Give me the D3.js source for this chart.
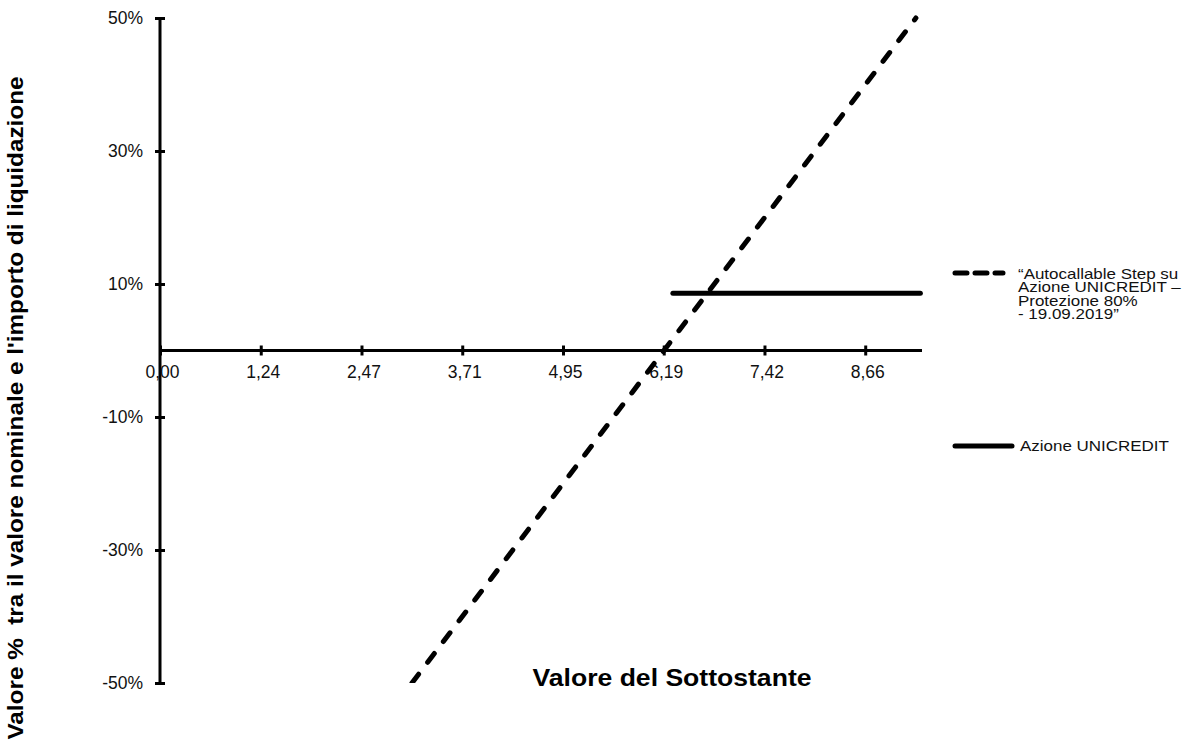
<!DOCTYPE html>
<html>
<head>
<meta charset="utf-8">
<script src="https://cdn.jsdelivr.net/npm/d3@7"></script>
<style>
  html, body { margin: 0; padding: 0; background: #fff; }
  svg { display: block; font-family: "Liberation Sans", Arial, sans-serif; }
</style>
</head>
<body>
<svg id="chart" width="1186" height="746"></svg>
<script>
// ---- data ----
const xTickValues = [0, 1.2375, 2.475, 3.7125, 4.95, 6.1875, 7.425, 8.6625];
const xTickLabels = ["0,00", "1,24", "2,47", "3,71", "4,95", "6,19", "7,42", "8,66"];
const yTickValues = [-50, -30, -10, 10, 30, 50];
const yTickLabels = ["-50%", "-30%", "-10%", "10%", "30%", "50%"];

const certX = [3.095, 9.285];      // "Autocallable Step ..." (dashed)
const certY = [-50, 50];
const shareX = [6.30, 9.34];       // "Azione UNICREDIT" (solid)
const shareY = [8.6, 8.6];

const legendLabels = [
  ["\u201CAutocallable Step su", "Azione UNICREDIT \u2013", "Protezione 80%", "- 19.09.2019\u201D"],
  ["Azione UNICREDIT"]
];
const xTitle = "Valore del Sottostante";
const yTitle = "Valore %  tra il valore nominale e l'importo di liquidazione";

// ---- layout ----
const svg = d3.select("#chart");
const x = d3.scaleLinear().domain([0, 9.36]).range([160, 922]);
const y = d3.scaleLinear().domain([-50, 50]).range([683, 18]);

svg.append("defs").append("clipPath").attr("id", "plotclip")
  .append("rect").attr("x", 140).attr("y", 0).attr("width", 800).attr("height", y(-50));

const FONT = "Liberation Sans, Arial, sans-serif";

// y axis
const yAxis = svg.append("g").attr("transform", `translate(${x(0)},0)`)
  .call(d3.axisLeft(y).tickValues(yTickValues).tickSize(5)
        .tickFormat((d, i) => yTickLabels[i]));
yAxis.select(".domain").attr("d", `M0,${y(50)}V${y(-50)}`).attr("stroke", "#000").attr("stroke-width", 3);
yAxis.selectAll(".tick line").attr("x1", -5).attr("x2", 5).attr("stroke", "#000").attr("stroke-width", 3);
yAxis.selectAll(".tick text").attr("font-size", 17.5).attr("fill", "#111")
  .attr("font-family", FONT).attr("x", -17);

// x axis at 0%
const xAxis = svg.append("g").attr("transform", `translate(0,${y(0)})`)
  .call(d3.axisBottom(x).tickValues(xTickValues).tickSize(5)
        .tickFormat((d, i) => xTickLabels[i]));
xAxis.select(".domain").attr("d", `M${x(0)},0H${x(9.36)}`).attr("stroke", "#000").attr("stroke-width", 3);
xAxis.selectAll(".tick line").attr("y1", -5).attr("y2", 5).attr("stroke", "#000").attr("stroke-width", 3);
xAxis.selectAll(".tick text").attr("font-size", 17.5).attr("fill", "#111")
  .attr("font-family", FONT)
  .attr("dy", null).attr("y", 27).attr("x", 2);

// lines
const line = d3.line().x(d => x(d[0])).y(d => y(d[1]));
const plot = svg.append("g").attr("clip-path", "url(#plotclip)");
plot.append("path")
  .datum(certX.map((v, i) => [v, certY[i]]))
  .attr("d", line).attr("fill", "none").attr("stroke", "#000")
  .attr("stroke-width", 5).attr("stroke-linecap", "round")
  .attr("stroke-dasharray", "11,15");
plot.append("path")
  .datum(shareX.map((v, i) => [v, shareY[i]]))
  .attr("d", line).attr("fill", "none").attr("stroke", "#000")
  .attr("stroke-width", 5).attr("stroke-linecap", "round");

// legend
const lg = svg.append("g");
lg.append("line").attr("x1", 955).attr("x2", 1003).attr("y1", 273).attr("y2", 273)
  .attr("stroke", "#000").attr("stroke-width", 5).attr("stroke-linecap", "round")
  .attr("stroke-dasharray", "12,8");
const t1 = lg.append("g").attr("transform", "translate(1018,278.5) scale(1.17,1)")
  .append("text").attr("x", 0).attr("y", 0)
  .attr("font-size", 14.5).attr("fill", "#111");
legendLabels[0].forEach((s, i) => t1.append("tspan").attr("x", 0).attr("dy", i === 0 ? 0 : 13.6).text(s));
lg.append("line").attr("x1", 955).attr("x2", 1012).attr("y1", 446).attr("y2", 446)
  .attr("stroke", "#000").attr("stroke-width", 5).attr("stroke-linecap", "round");
lg.append("g").attr("transform", "translate(1020,451) scale(1.17,1)")
  .append("text").attr("x", 0).attr("y", 0).attr("font-size", 14.5).attr("fill", "#111")
  .text(legendLabels[1][0]);

// titles
svg.append("text").attr("x", 672).attr("y", 686).attr("text-anchor", "middle")
  .attr("font-size", 24).attr("font-weight", "bold").attr("fill", "#000")
  .attr("textLength", 279).attr("lengthAdjust", "spacingAndGlyphs").text(xTitle);
svg.append("text").attr("transform", "translate(23,408) rotate(-90)")
  .attr("text-anchor", "middle").attr("font-size", 22).attr("font-weight", "bold")
  .attr("fill", "#000").attr("xml:space", "preserve").style("white-space", "pre")
  .attr("textLength", 663).attr("lengthAdjust", "spacingAndGlyphs").text(yTitle);
</script>
</body>
</html>
